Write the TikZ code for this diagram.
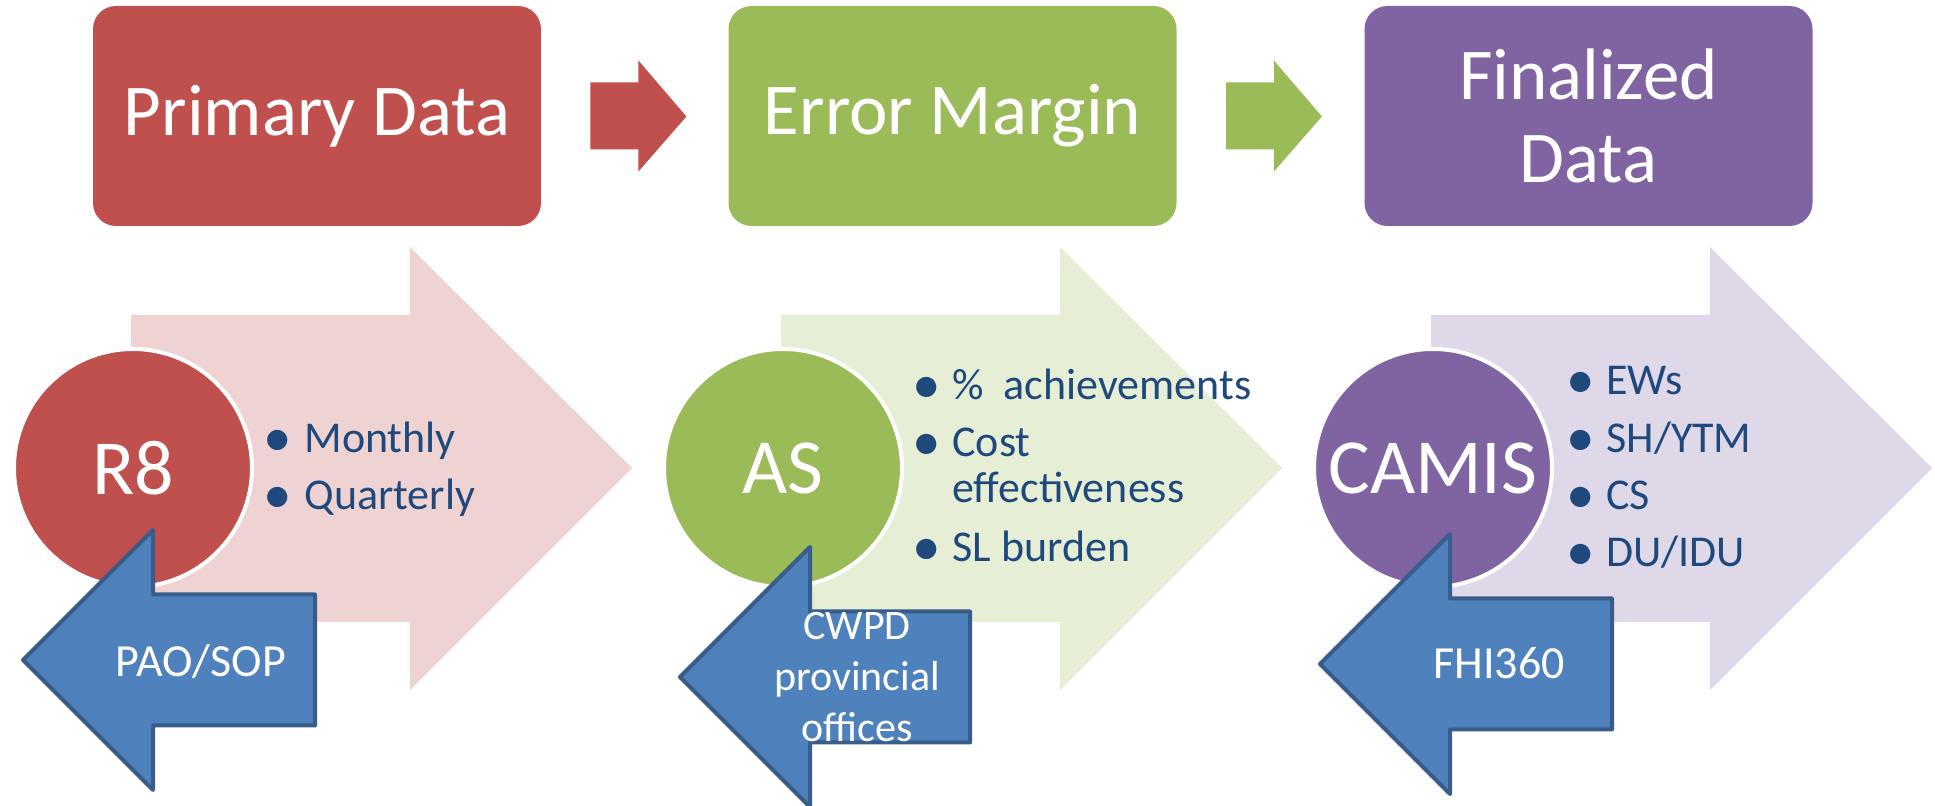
\documentclass[tikz,border=0pt]{standalone}
\usepackage{fontspec}
\setmainfont{Carlito}
\usepackage{xcolor}
\usepackage{graphicx}
\usepackage{tikz}
\usetikzlibrary{positioning, calc}
\definecolor{rd}{HTML}{C0504D}
\definecolor{gr}{HTML}{9BBB59}
\definecolor{pu}{HTML}{8064A2}
\definecolor{bl}{HTML}{4F81BD}
\definecolor{bldark}{HTML}{385D8A}
\definecolor{navy}{HTML}{1F497D}
\tikzset{
    stage/.style={fill=#1, rounded corners=11.5pt, minimum width=224pt, minimum height=110pt, inner sep=0pt,
        text=white, align=center, font=\fontsize{36.5}{41.5}\selectfont},
    flow/.style={fill=#1!25},
    hub/.style={circle, fill=#1, draw=white, line width=2pt, minimum size=119pt, inner sep=0pt,
        text=white, font=\fontsize{39}{44}\selectfont},
    source/.style={fill=bl, draw=bldark, line width=2pt, line join=round},
    srclabel/.style={text=white, inner sep=0pt, anchor=base, font=\fontsize{23}{28}\selectfont},
    items/.style={text=navy, inner sep=0pt, anchor=base west, font=\fontsize{22}{23}\selectfont},
}
\newcommand{\bul}{\makebox[0pt]{\raisebox{-1.8pt}{\scalebox{1.3}{\textbullet}}}}

\begin{document}
\begin{tikzpicture}[x=0.5pt, y=-0.5pt]
        \useasboundingbox (0,0) rectangle (1935,806);
        \node[stage=rd] (prim) at (317,116) {Primary Data};
        \node[stage=gr] (err) at (952.5,116) {Error Margin};
        \node[stage=pu] (fin) at (1588.5,116) {Finalized\\Data};
        \foreach \a/\c in {prim/rd, err/gr}
            \fill[\c] ($(\a.east)+(49,-33.5)$) -- ++(48,0) -- ++(0,-22) -- ++(48,56) -- ++(-48,55) -- ++(0,-22) -- ++(-48,0) -- cycle;
        \foreach \x/\c in {131/rd, 781/gr, 1431/pu}
            \fill[flow=\c] (\x,315) -- ++(279,0) -- ++(0,-68) -- ++(222,221) -- ++(-222,222) -- ++(0,-68) -- ++(-279,0) -- cycle;
        \node[hub=rd] (r8) at (133,468) {R8};
        \node[hub=gr] (as) at (783,468) {AS};
        \node[hub=pu] (camis) at (1433,468) {CAMIS};
        \node[items] (r8list) at (277,453) {\begin{tabular}[t]{@{}c@{\hspace{13.5pt}}l@{}}
            \bul & Monthly\\[5.5pt] \bul & Quarterly\end{tabular}};
        \node[items] (aslist) at (926,400) {\begin{tabular}[t]{@{}c@{\hspace{13pt}}l@{}}
            \bul & \%\ \ achievements\\[5.5pt] \bul & Cost\\ & effectiveness\\[6.5pt] \bul & SL burden\end{tabular}};
        \node[items] (camislist) at (1580,395) {\begin{tabular}[t]{@{}c@{\hspace{13pt}}l@{}}
            \bul & EWs\\[6pt] \bul & SH/YTM\\[5.5pt] \bul & CS\\[5.5pt] \bul & DU/IDU\end{tabular}};
        \foreach \x/\y/\s in {23/660/162, 680/677/160, 1320/664/162}
            \draw[source] (\x,\y) -- ++(130,-130) -- ++(0,64.5) -- ++(\s,0) -- ++(0,131) -- ++(-\s,0) -- ++(0,64.5) -- cycle;
        \node[srclabel] (pao) at (201,677) {PAO/SOP};
        \node[srclabel, font=\fontsize{21}{25.5}\selectfont] (cwpd) at (857,640) {\begin{tabular}[t]{@{}c@{}}CWPD\\provincial\\offices\end{tabular}};
        \node[srclabel] (fhi) at (1499,679) {FHI360};
    \end{tikzpicture}
\end{document}
